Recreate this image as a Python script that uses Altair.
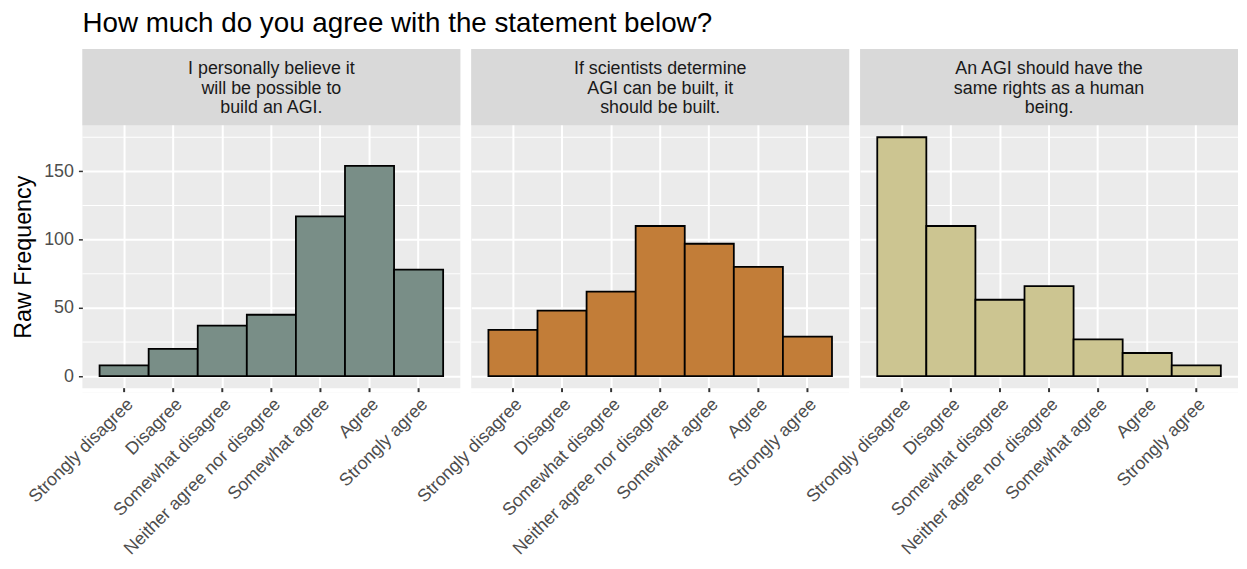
import altair as alt
import pandas as pd

# ---- data ----
categories = ["Strongly disagree", "Disagree", "Somewhat disagree",
              "Neither agree nor disagree", "Somewhat agree", "Agree", "Strongly agree"]
strip_labels = [
    "I personally believe it\nwill be possible to\nbuild an AGI.",
    "If scientists determine\nAGI can be built, it\nshould be built.",
    "An AGI should have the\nsame rights as a human\nbeing.",
]
counts_possible = [8, 20, 37, 45, 117, 154, 78]
counts_should = [34, 48, 62, 110, 97, 80, 29]
counts_rights = [175, 110, 56, 66, 27, 17, 8]
fills = ["#798E87", "#C27D38", "#CCC591"]
y_breaks = [0, 50, 100, 150]
y_minor = [25, 75, 125, 175]
title_text = "How much do you agree with the statement below?"
y_title = "Raw Frequency"

FONT = "Liberation Sans, Arial, sans-serif"
W, PH, SH = 381, 265, 77
TICK = 4

all_counts = [counts_possible, counts_should, counts_rights]
ymax = max(max(c) for c in all_counts)
pad = 0.05 * ymax
span = ymax + 2 * pad
# the strip sits inside the top of each panel and the tick band below it:
# extend the domain by their heights
ytop = ymax + pad + span * SH / PH
ybot = -pad - span * TICK / PH
yscale = alt.Scale(domain=[ybot, ytop], nice=False, zero=False)
xscale = alt.Scale(domain=categories, paddingInner=0, paddingOuter=0.35)
H = SH + PH + TICK


def panel(i, counts):
    df = pd.DataFrame({"answer": categories, "count": counts})
    show_y = i == 0
    yaxis_kw = dict(values=y_breaks, grid=True, gridColor="white", gridWidth=2,
                    domain=False, labels=show_y, ticks=show_y)
    if show_y:
        yaxis_kw.update(title=y_title, labelFontSize=18, labelColor="#4D4D4D",
                        labelFont=FONT, tickColor="#333333", tickSize=TICK, tickWidth=1.5,
                        labelPadding=5, titleFontSize=23.5, titleColor="black",
                        titleFont=FONT, titleFontWeight="normal", titlePadding=8,
                        titleY=SH + PH / 2)
    else:
        yaxis_kw.update(title=None)
    yaxis = alt.Axis(**yaxis_kw)

    xaxis = alt.Axis(title=None, labelAngle=315, labelAlign="right", labelBaseline="top",
                     labelFontSize=18, labelColor="#4D4D4D", labelFont=FONT,
                     labelLimit=400, labelOverlap=False, labelPadding=3,
                     ticks=False, domain=False,
                     grid=True, gridColor="white", gridWidth=2, bandPosition=0.5)

    xenc = alt.X("answer:N", sort=categories, scale=xscale, axis=xaxis)

    minor = alt.Chart(pd.DataFrame({"v": y_minor})).mark_rule(
        color="white", strokeWidth=1
    ).encode(y=alt.Y("v:Q", scale=yscale, axis=yaxis))

    bars = alt.Chart(df).mark_bar(fill=fills[i], stroke="black", strokeWidth=1.8, opacity=1).encode(
        x=xenc,
        y=alt.Y("count:Q", scale=yscale, axis=yaxis),
        y2=alt.datum(0),
    )

    sdf = pd.DataFrame({"label": [strip_labels[i]]})
    strip_bg = alt.Chart(sdf).mark_rect(fill="#D9D9D9", stroke=None).encode(
        x=alt.value(0), x2=alt.value(W), y=alt.value(0), y2=alt.value(SH)
    )
    strip_txt = alt.Chart(sdf).mark_text(
        lineBreak="\n", fontSize=18, font=FONT, color="#1A1A1A", lineHeight=20,
        align="center", baseline="middle"
    ).encode(text="label:N", x=alt.value(W / 2), y=alt.value(20))

    tick_bg = alt.Chart(sdf).mark_rect(fill="white", stroke=None).encode(
        x=alt.value(-1), x2=alt.value(W + 1), y=alt.value(SH + PH), y2=alt.value(H)
    )
    xticks = alt.Chart(df).mark_tick(
        color="#333333", orient="vertical", thickness=2, size=TICK, opacity=1
    ).encode(x=xenc, y=alt.value(SH + PH + TICK / 2))

    return alt.layer(minor, bars, strip_bg, strip_txt, tick_bg, xticks).properties(
        width=W, height=H)


panels = [panel(i, c) for i, c in enumerate(all_counts)]

chart = alt.hconcat(*panels, spacing=11, bounds="flush").properties(
    title=alt.TitleParams(title_text, anchor="start", frame="group", fontSize=28,
                          font=FONT, color="black", fontWeight="normal", offset=11),
    padding={"left": 3, "top": 0, "right": 0, "bottom": 0},
).configure(
    font=FONT, view=alt.ViewConfig(stroke=None, fill="#EBEBEB")
)

chart.save("out.html", embed_options={"renderer": "svg", "actions": False})
